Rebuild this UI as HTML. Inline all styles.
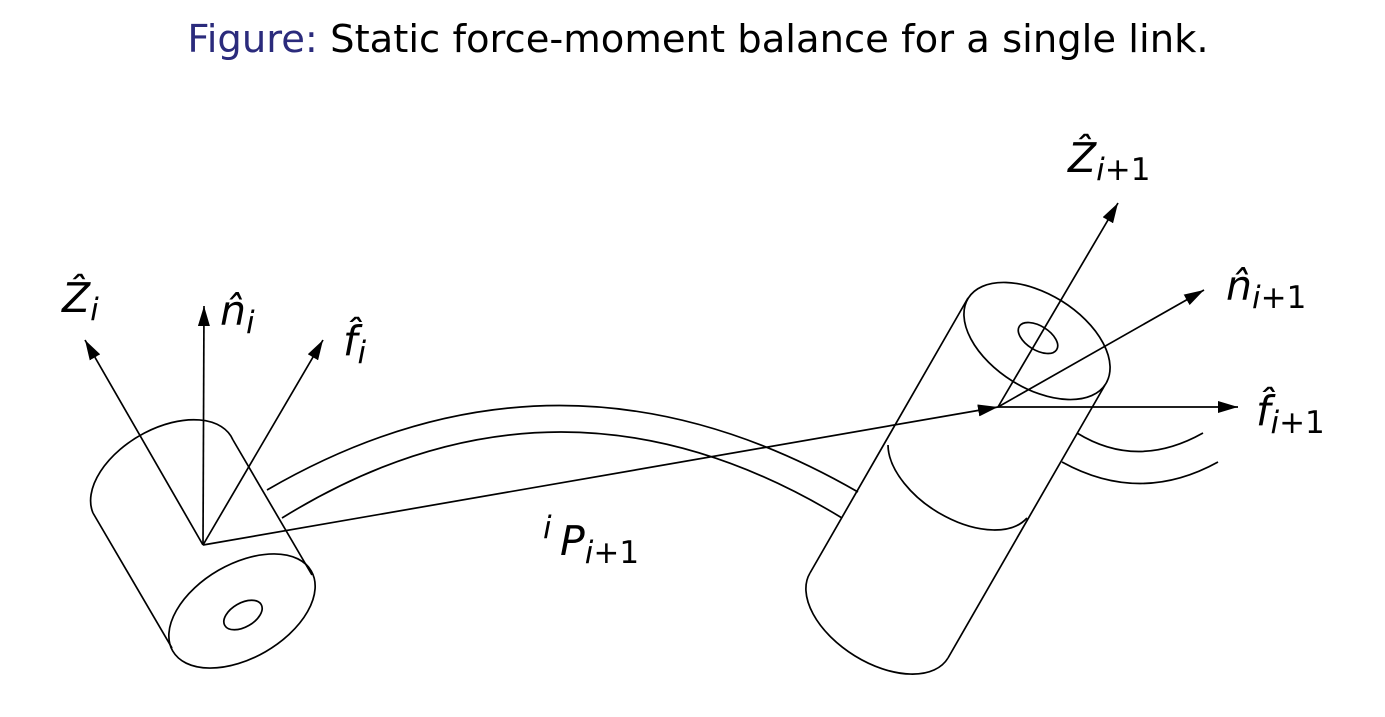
<!DOCTYPE html>
<html><head><style>
html,body{margin:0;padding:0;background:#fff;}
svg{display:block;}
text{font-family:"DejaVu Sans","Liberation Sans",sans-serif;}
.m{font-style:italic;font-size:41px;}
.s{font-style:italic;font-size:31px;}
.sn{font-style:normal;font-size:31px;}
</style></head><body>
<svg width="1385" height="717" viewBox="0 0 1385 717" xmlns="http://www.w3.org/2000/svg">
<defs>
<marker id="a" viewBox="0 0 20 12" refX="20" refY="6" markerWidth="20" markerHeight="12" markerUnits="userSpaceOnUse" orient="auto">
<path d="M0,0 L20,6 L0,12 z" fill="#000"/></marker>
</defs>
<text x="698" y="52" text-anchor="middle" font-size="38.5"><tspan fill="#2b2b7c">Figure:</tspan> Static force-moment balance for a single link.</text>
<g fill="none" stroke="#000" stroke-width="1.7">
<path d="M267,490 Q560,320 858,492"/>
<path d="M282,518 Q560,346 842,518"/>
<path d="M1077,433 Q1137,470 1203,433"/>
<path d="M1062,462 Q1140,505 1218,462"/>
<path d="M93,513 A79,47 -30 0 1 233,440"/>
<line x1="93" y1="513" x2="172" y2="648"/>
<line x1="233" y1="440" x2="312" y2="575"/>
<ellipse cx="242" cy="611" rx="80" ry="47" transform="rotate(-30 242 611)"/>
<ellipse cx="243" cy="615" rx="21" ry="12" transform="rotate(-30 243 615)"/>
<ellipse cx="1037" cy="341" rx="81" ry="47" transform="rotate(32 1037 341)"/>
<ellipse cx="1038" cy="338" rx="22" ry="12" transform="rotate(32 1038 338)"/>
<line x1="968" y1="298" x2="810" y2="573"/>
<line x1="1105" y1="385" x2="948" y2="658"/>
<path d="M888,445 A81,47 32 0 0 1027,518"/>
<path d="M810,573 A81,47 32 0 0 948,658"/>
</g>
<g stroke="#000" stroke-width="1.7" fill="none">
<line x1="203" y1="545" x2="85" y2="340" marker-end="url(#a)"/>
<line x1="203" y1="545" x2="204" y2="306" marker-end="url(#a)"/>
<line x1="203" y1="545" x2="323" y2="340" marker-end="url(#a)"/>
<line x1="203" y1="545" x2="998" y2="407" marker-end="url(#a)"/>
<line x1="998" y1="407" x2="1118" y2="203" marker-end="url(#a)"/>
<line x1="998" y1="407" x2="1204" y2="290" marker-end="url(#a)"/>
<line x1="998" y1="407" x2="1238" y2="407" marker-end="url(#a)"/>
</g>
<text x="62" y="312" class="m">Ẑ<tspan class="s" dy="8">i</tspan></text>
<text x="220" y="325" class="m">n̂<tspan class="s" dy="8">i</tspan></text>
<text x="343" y="355" class="m">f̂<tspan class="s" dy="8">i</tspan></text>
<text x="1068" y="172" class="m">Ẑ<tspan class="s" dy="8">i</tspan><tspan class="sn">+1</tspan></text>
<text x="1226" y="300" class="m">n̂<tspan class="s" dy="8">i</tspan><tspan class="sn">+1</tspan></text>
<text x="1256" y="425" class="m">f̂<tspan class="s" dy="8">i</tspan><tspan class="sn">+1</tspan></text>
<text x="543" y="538" class="s">i</text>
<text x="560" y="555" class="m">P<tspan class="s" dy="8">i</tspan><tspan class="sn">+1</tspan></text>
</svg>
</body></html>
